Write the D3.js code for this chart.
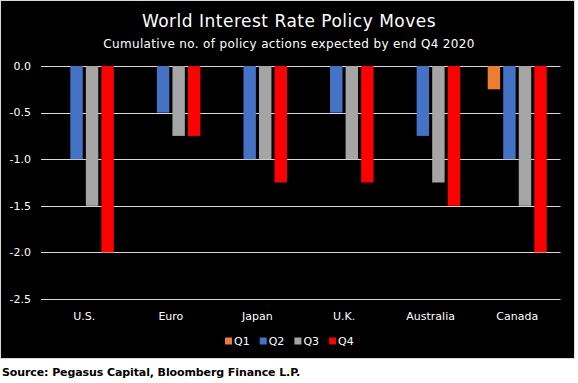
<!DOCTYPE html>
<html>
<head>
<meta charset="utf-8">
<script src="https://cdn.jsdelivr.net/npm/d3@7"></script>
<style>
  body { margin: 0; background: #fff; }
  svg { display: block; font-family: "DejaVu Sans", sans-serif; }
</style>
</head>
<body>
<svg id="chart" width="578" height="383"></svg>
<script>
const categories = ["U.S.", "Euro", "Japan", "U.K.", "Australia", "Canada"];
const quarters = ["Q1", "Q2", "Q3", "Q4"];
const q1 = [0, 0, 0, 0, 0, -0.25];
const q2 = [-1, -0.5, -1, -0.5, -0.75, -1];
const q3 = [-1.5, -0.75, -1, -1, -1.25, -1.5];
const q4 = [-2, -0.75, -1.25, -1.25, -1.5, -2];
const yTicks = [0, -0.5, -1, -1.5, -2, -2.5];
const colors = ["#ED7D31", "#4472C4", "#A5A5A5", "#FF0000"];

const series = [q1, q2, q3, q4];
const rows = categories.map((c, i) => ({
  cat: c,
  values: quarters.map((q, j) => ({ q: q, v: series[j][i] }))
}));

const svg = d3.select("#chart");

// dark panel
svg.append("rect")
  .attr("x", 0.5).attr("y", 0.5)
  .attr("width", 574).attr("height", 358)
  .attr("fill", "#000")
  .attr("stroke", "#d9d9d9");

const plotLeft = 41, plotRight = 560.5, plotTop = 66, plotBottom = 299;

const x0 = d3.scaleBand()
  .domain(categories)
  .range([plotLeft, plotRight])
  .paddingInner(0.318)
  .paddingOuter(0.159);

const x1 = d3.scaleBand()
  .domain(quarters)
  .range([0, x0.bandwidth()])
  .paddingInner(0.2);

const y = d3.scaleLinear()
  .domain([0, -2.5])
  .range([plotTop, plotBottom]);

// gridlines
svg.append("g")
  .selectAll("line")
  .data(yTicks)
  .join("line")
  .attr("x1", plotLeft).attr("x2", plotRight)
  .attr("y1", d => Math.round(y(d)) + 0.5)
  .attr("y2", d => Math.round(y(d)) + 0.5)
  .attr("stroke", "#d9d9d9")
  .attr("stroke-width", 1);

// y labels
svg.append("g")
  .selectAll("text")
  .data(yTicks)
  .join("text")
  .attr("x", 31)
  .attr("y", d => y(d))
  .attr("dy", "0.35em")
  .attr("text-anchor", "end")
  .attr("fill", "#fff")
  .attr("font-size", 11)
  .text(d => d3.format(".1f")(d).replace("−", "-"));

// bars
svg.append("g")
  .selectAll("g")
  .data(rows)
  .join("g")
  .attr("transform", d => `translate(${x0(d.cat)},0)`)
  .selectAll("rect")
  .data(d => d.values)
  .join("rect")
  .attr("x", d => x1(d.q))
  .attr("width", x1.bandwidth())
  .attr("y", d => y(Math.max(0, d.v)))
  .attr("height", d => Math.abs(y(d.v) - y(0)))
  .attr("fill", (d, i) => colors[i]);

// x labels
svg.append("g")
  .selectAll("text")
  .data(categories)
  .join("text")
  .attr("x", d => x0(d) + x0.bandwidth() / 2)
  .attr("y", 320)
  .attr("text-anchor", "middle")
  .attr("fill", "#fff")
  .attr("font-size", 11)
  .text(d => d);

// legend
const legend = svg.append("g")
  .attr("transform", "translate(225,341)");
const item = legend.selectAll("g")
  .data(quarters)
  .join("g")
  .attr("transform", (d, i) => `translate(${i * 34.7},0)`);
item.append("rect")
  .attr("x", 0).attr("y", -3.5)
  .attr("width", 7).attr("height", 7)
  .attr("fill", (d, i) => colors[i]);
item.append("text")
  .attr("x", 9).attr("y", 0)
  .attr("dy", "0.35em")
  .attr("fill", "#fff")
  .attr("font-size", 11)
  .text(d => d);

// titles
svg.append("text")
  .attr("x", 289).attr("y", 27)
  .attr("text-anchor", "middle")
  .attr("fill", "#fff")
  .attr("font-size", 17)
  .attr("letter-spacing", "0.5")
  .text("World Interest Rate Policy Moves");

svg.append("text")
  .attr("x", 289).attr("y", 48)
  .attr("text-anchor", "middle")
  .attr("fill", "#fff")
  .attr("font-size", 12)
  .attr("letter-spacing", "0.35")
  .text("Cumulative no. of policy actions expected  by end Q4 2020");

svg.append("text")
  .attr("x", 2).attr("y", 376)
  .attr("fill", "#000")
  .attr("font-size", 11)
  .attr("font-weight", "bold")
  .attr("letter-spacing", "-0.1")
  .text("Source: Pegasus Capital, Bloomberg Finance L.P.");
</script>
</body>
</html>
